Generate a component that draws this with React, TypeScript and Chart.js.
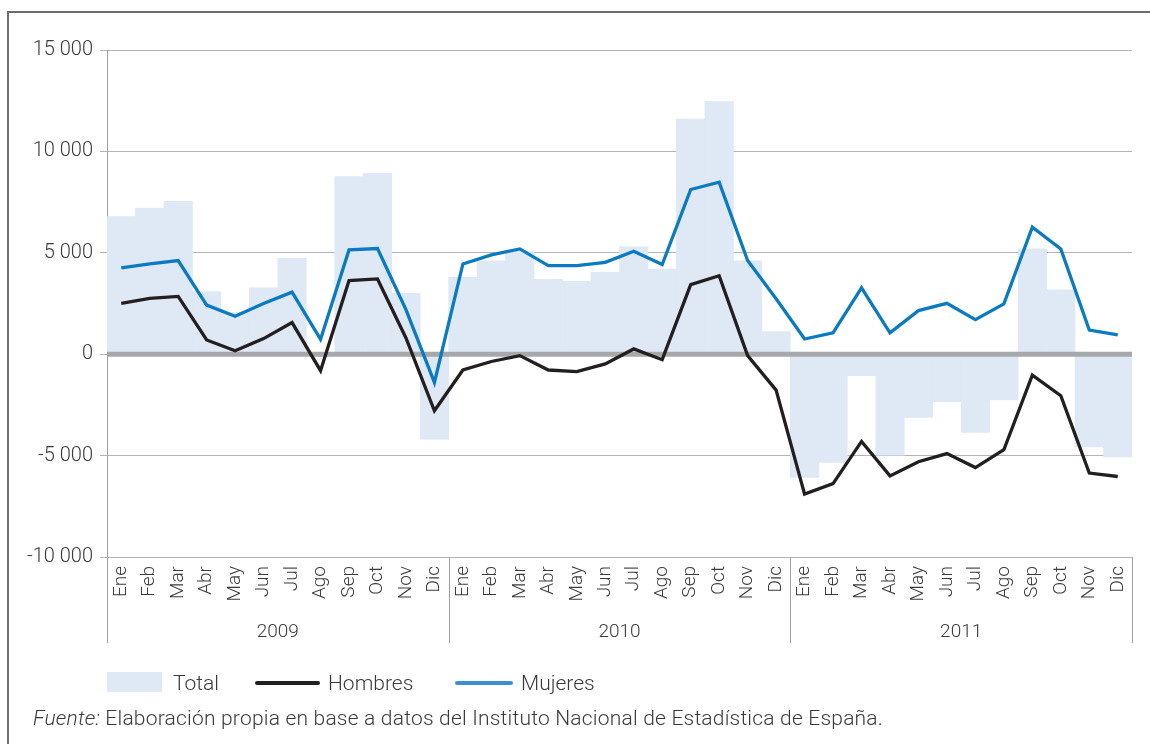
import React, { useEffect, useRef } from 'react';
import { Chart, registerables } from 'chart.js';

Chart.register(...registerables);

const FONT = 'Roboto, "Open Sans", sans-serif';

const months = ['Ene', 'Feb', 'Mar', 'Abr', 'May', 'Jun', 'Jul', 'Ago', 'Sep', 'Oct', 'Nov', 'Dic'];
const years = ['2009', '2010', '2011'];
const labels = [...months, ...months, ...months];

const total = [
  6790, 7210, 7540, 3090, 2050, 3270, 4730, -90, 8760, 8920, 3000, -4190,
  3790, 4610, 5070, 3690, 3590, 4040, 5300, 4200, 11590, 12460, 4610, 1110,
  -6080, -5340, -1060, -4980, -3120, -2340, -3860, -2250, 5190, 3170, -4570, -5060,
];
const hombres = [
  2510, 2750, 2850, 700, 170, 770, 1560, -810, 3630, 3710, 800, -2790,
  -780, -360, -70, -780, -860, -480, 260, -270, 3430, 3870, -70, -1770,
  -6900, -6380, -4300, -6000, -5300, -4900, -5590, -4710, -1030, -2050, -5860, -6030,
];
const mujeres = [
  4260, 4450, 4620, 2420, 1870, 2500, 3060, 730, 5140, 5210, 2200, -1390,
  4450, 4900, 5190, 4370, 4370, 4530, 5080, 4420, 8120, 8480, 4620, 2730,
  750, 1050, 3270, 1050, 2150, 2510, 1700, 2480, 6260, 5190, 1190, 950,
];

const yTicks = [-10000, -5000, 0, 5000, 10000, 15000];

const BAR = '#dfe8f5';
const BLACK = '#231f20';
const BLUE = '#0a7bc1';
const GRID = '#b5b5b5';
const TEXT = '#3a3a3a';

const fmt = (v: number) => {
  const s = Math.abs(v).toString().replace(/\B(?=(\d{3})+(?!\d))/g, ' ');
  return (v < 0 ? '-' : '') + s;
};

const decorPlugin = {
  id: 'decor',
  afterDatasetDraw(chart: any, args: any) {
    if (args.index !== 0) return;
    const { ctx, chartArea, scales } = chart;
    const y0 = scales.y.getPixelForValue(0);
    ctx.save();
    ctx.strokeStyle = '#a7a8ab';
    ctx.lineWidth = 5;
    ctx.beginPath();
    ctx.moveTo(chartArea.left, y0);
    ctx.lineTo(chartArea.right, y0);
    ctx.stroke();
    ctx.restore();
  },
  afterDraw(chart: any) {
    const { ctx, chartArea } = chart;
    const n = labels.length;
    const w = (chartArea.right - chartArea.left) / n;
    ctx.save();
    ctx.strokeStyle = '#a0a0a0';
    ctx.lineWidth = 1;
    for (let i = 0; i <= years.length; i++) {
      const x = Math.round(chartArea.left + i * 12 * w) + 0.5;
      ctx.beginPath();
      ctx.moveTo(x, chartArea.bottom);
      ctx.lineTo(x, chartArea.bottom + 86);
      ctx.stroke();
    }
    ctx.fillStyle = TEXT;
    ctx.font = `300 19px ${FONT}`;
    ctx.textAlign = 'center';
    ctx.textBaseline = 'middle';
    years.forEach((yr, i) => {
      const x = chartArea.left + (i * 12 + 6) * w;
      ctx.fillText(yr, x, chartArea.bottom + 75);
    });
    ctx.restore();
  },
};

export default function App() {
  const ref = useRef<HTMLCanvasElement>(null);
  useEffect(() => {
    const chart = new Chart(ref.current!, {
      type: 'bar',
      data: {
        labels,
        datasets: [
          {
            type: 'bar',
            label: 'Total',
            data: total,
            backgroundColor: BAR,
            borderWidth: 0,
            barPercentage: 1,
            categoryPercentage: 1,
            order: 2,
          },
          {
            type: 'line',
            label: 'Hombres',
            data: hombres,
            borderColor: BLACK,
            borderWidth: 3.3,
            pointRadius: 0,
            tension: 0,
            fill: false,
            order: 1,
          },
          {
            type: 'line',
            label: 'Mujeres',
            data: mujeres,
            borderColor: BLUE,
            borderWidth: 3.3,
            pointRadius: 0,
            tension: 0,
            fill: false,
            order: 0,
          },
        ] as any,
      },
      options: {
        responsive: false,
        animation: false,
        devicePixelRatio: 1,
        layout: { padding: { left: 0, right: 18, top: 50, bottom: 0 } },
        plugins: { legend: { display: false }, tooltip: { enabled: false } },
        scales: {
          x: {
            offset: true,
            grid: { display: false, drawTicks: false },
            border: { display: false },
            afterFit: (s: any) => { s.height = 187; },
            ticks: {
              autoSkip: false,
              minRotation: 90,
              maxRotation: 90,
              padding: 9,
              color: TEXT,
              font: { family: FONT, size: 19, weight: '300' },
            },
          },
          y: {
            min: -10000,
            max: 15000,
            afterFit: (s: any) => { s.width = 107; },
            afterBuildTicks: (s: any) => { s.ticks = yTicks.map((v) => ({ value: v })); },
            grid: {
              color: (c: any) => (c.tick && c.tick.value === 0 ? 'rgba(0,0,0,0)' : GRID),
              tickColor: GRID,
              tickLength: 7,
              lineWidth: 1,
            },
            border: { display: true, color: '#a0a0a0', width: 1 },
            ticks: {
              padding: 7,
              color: TEXT,
              font: { family: FONT, size: 20, weight: '300' },
              callback: (v: any) => fmt(Number(v)),
            },
          },
        },
      },
      plugins: [decorPlugin],
    });
    return () => chart.destroy();
  }, []);

  const textStyle: React.CSSProperties = {
    position: 'absolute',
    fontFamily: FONT,
    fontWeight: 300,
    color: TEXT,
    fontSize: 21,
    lineHeight: '24px',
    whiteSpace: 'nowrap',
  };

  return (
    <div style={{ position: 'absolute', left: 0, top: 0, width: 1150, height: 744, overflow: 'hidden', background: '#fff' }}>
      <div style={{ position: 'absolute', left: 7, top: 11, width: 1200, height: 800, borderLeft: '2px solid #6d6d6d', borderTop: '2px solid #6d6d6d' }} />
      <canvas ref={ref} width={1150} height={744} style={{ position: 'absolute', left: 0, top: 0, width: 1150, height: 744 }} />
      <div style={{ position: 'absolute', left: 107, top: 672, width: 55, height: 20, background: BAR }} />
      <div style={{ ...textStyle, left: 173, top: 671 }}>Total</div>
      <div style={{ position: 'absolute', left: 255, top: 681, width: 65, height: 4, borderRadius: 2, background: BLACK }} />
      <div style={{ ...textStyle, left: 328, top: 671 }}>Hombres</div>
      <div style={{ position: 'absolute', left: 455, top: 681, width: 58, height: 4, borderRadius: 2, background: '#3b8fd3' }} />
      <div style={{ ...textStyle, left: 521, top: 671 }}>Mujeres</div>
      <div style={{ ...textStyle, left: 33, top: 706, fontSize: 21, letterSpacing: '0.2px' }}>
        <i>Fuente:</i> Elaboración propia en base a datos del Instituto Nacional de Estadística de España.
      </div>
    </div>
  );
}
